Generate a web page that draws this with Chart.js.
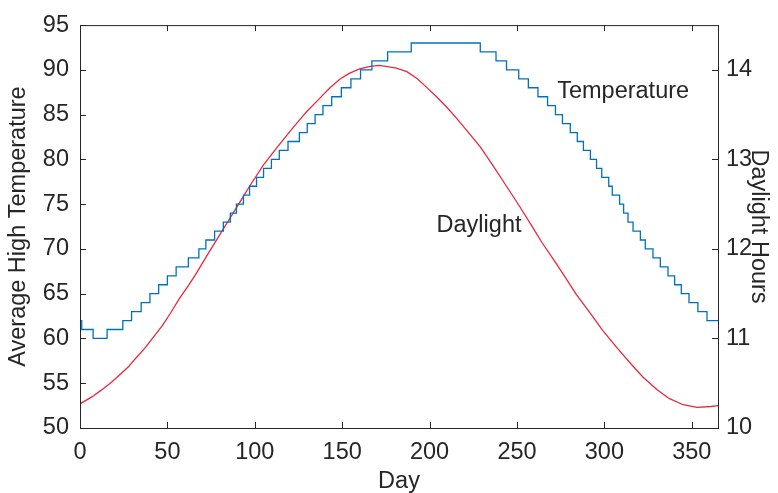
<!DOCTYPE html>
<html>
<head>
<meta charset="utf-8">
<title>Temperature and Daylight</title>
<script src="https://cdn.jsdelivr.net/npm/chart.js@4.4.1/dist/chart.umd.min.js"></script>
<style>
  html, body { margin: 0; padding: 0; background: #ffffff; }
  #wrap { width: 778px; height: 493px; }
</style>
</head>
<body>
<div id="wrap"><canvas id="climateChart" width="778" height="493"></canvas></div>
<script>
// Average high temperature: day where each level starts, and the level (step line)
const tempDays = [0, 1, 7.5, 15.5, 24.5, 29.5, 35, 40, 45, 50, 55, 62, 68, 72, 77, 82, 86, 89.5, 93.5, 97,
    101, 105, 109.5, 114, 119, 125.5, 130, 134.5, 139, 144, 149.5, 155, 160.5, 167, 176, 189.5, 229, 238, 244, 251,
    256.5, 262, 267.5, 272, 276, 280.5, 284.5, 288, 292, 295.5, 298.5, 302.5, 304.5, 308.7, 311, 313.5, 316.4, 320.6,
    323.4, 327.8, 332, 336.4, 340.2, 344, 348.4, 353.5, 358.7, 365];
const tempValues = [62, 61, 60, 61, 62, 63, 64, 65, 66, 67, 68, 69, 70, 71, 72, 73, 74, 75, 76, 77,
    78, 79, 80, 81, 82, 83, 84, 85, 86, 87, 88, 89, 90, 91, 92, 93, 92, 91, 90, 89,
    88, 87, 86, 85, 84, 83, 82, 81, 80, 79, 78, 77, 76, 75, 74, 73, 72, 71,
    70, 69, 68, 67, 66, 65, 64, 63, 62, 62];

// Daylight hours
const lightDays = [0, 7, 12, 18, 22, 28, 31, 37, 41, 47, 52, 57, 62, 66, 74, 80, 86, 92, 97, 105,
    113, 120, 126, 130, 135, 140, 143, 149, 154, 160, 166, 171, 175, 181, 187, 193, 198, 204, 210, 215,
    221, 229, 236, 244, 252, 259, 264, 272, 278, 284, 292, 299, 307, 315, 322, 330, 337, 345, 353, 361, 365];
const lightHours = [10.27, 10.35, 10.42, 10.51, 10.58, 10.69, 10.76, 10.89, 10.99, 11.14, 11.29, 11.45, 11.59, 11.71, 11.97, 12.16, 12.35, 12.54, 12.70, 12.94,
    13.14, 13.31, 13.45, 13.54, 13.64, 13.74, 13.80, 13.90, 13.96, 14.01, 14.04, 14.05, 14.04, 14.02, 13.98, 13.90, 13.81, 13.70, 13.58, 13.47,
    13.33, 13.14, 12.94, 12.70, 12.46, 12.24, 12.08, 11.85, 11.67, 11.49, 11.28, 11.09, 10.90, 10.72, 10.57, 10.43, 10.33, 10.26, 10.23, 10.24, 10.25];

// Tick labels
const dayTicks = [0, 50, 100, 150, 200, 250, 300, 350];
const tempTicks = [50, 55, 60, 65, 70, 75, 80, 85, 90, 95];
const hourTicks = [10, 11, 12, 13, 14];

const INK = '#262626';
const FONT = 'Liberation Sans, Arial, Helvetica, sans-serif';
const SIZE = 23.5;

// Box around the plot and MATLAB style inward tick marks
const boxPlugin = {
    id: 'boxTicks',
    afterDatasetsDraw(chart) {
        const { ctx, chartArea: a, scales } = chart;
        const len = 6;
        ctx.save();
        ctx.strokeStyle = INK;
        ctx.lineWidth = 1;
        ctx.beginPath();
        dayTicks.forEach(v => {
            const px = Math.round(scales.x.getPixelForValue(v)) + 0.5;
            ctx.moveTo(px, a.bottom); ctx.lineTo(px, a.bottom - len);
            ctx.moveTo(px, a.top); ctx.lineTo(px, a.top + len);
        });
        tempTicks.forEach(v => {
            const py = Math.round(scales.y.getPixelForValue(v)) + 0.5;
            ctx.moveTo(a.left, py); ctx.lineTo(a.left + len, py);
        });
        hourTicks.forEach(v => {
            const py = Math.round(scales.y1.getPixelForValue(v)) + 0.5;
            ctx.moveTo(a.right, py); ctx.lineTo(a.right - len, py);
        });
        ctx.stroke();
        ctx.strokeRect(a.left + 0.5, a.top + 0.5, a.right - a.left, a.bottom - a.top);

        // text labels next to the curves
        ctx.fillStyle = INK;
        ctx.font = SIZE + 'px ' + FONT;
        ctx.textBaseline = 'middle';
        ctx.textAlign = 'left';
        ctx.fillText('Temperature', scales.x.getPixelForValue(273), scales.y.getPixelForValue(87.6));
        ctx.fillText('Daylight', scales.x.getPixelForValue(204), scales.y.getPixelForValue(72.6));
        ctx.restore();
    }
};

function fixSize(w, h) {
    return function (scale) {
        if (w !== null) scale.width = w;
        if (h !== null) scale.height = h;
    };
}

const noGrid = { display: false, drawTicks: false, tickLength: 0 };

function renderChart() {
    const ctx = document.getElementById('climateChart').getContext('2d');

    new Chart(ctx, {
        type: 'line',
        data: {
            datasets: [{
                label: 'Temperature',
                data: tempDays.map((d, i) => ({ x: d, y: tempValues[i] })),
                yAxisID: 'y',
                borderColor: '#0072BD',
                borderWidth: 1.3,
                stepped: 'before',
                pointRadius: 0,
                fill: false
            }, {
                label: 'Daylight',
                data: lightDays.map((d, i) => ({ x: d, y: lightHours[i] })),
                yAxisID: 'y1',
                borderColor: '#E8283C',
                borderWidth: 1.3,
                tension: 0,
                pointRadius: 0,
                fill: false
            }]
        },
        options: {
            responsive: false,
            animation: false,
            devicePixelRatio: 1,
            layout: { padding: { top: 22, left: 0, right: 0, bottom: 0 } },
            plugins: {
                legend: { display: false },
                tooltip: { enabled: false }
            },
            scales: {
                x: {
                    type: 'linear',
                    min: 0,
                    max: 365,
                    afterBuildTicks: s => { s.ticks = dayTicks.map(v => ({ value: v })); },
                    afterFit: fixSize(null, 65),
                    grid: noGrid,
                    border: { display: false },
                    ticks: { color: INK, font: { family: FONT, size: SIZE }, padding: 10, maxRotation: 0 },
                    title: { display: true, text: 'Day', color: INK, font: { family: FONT, size: SIZE, lineHeight: 1 }, padding: 0 }
                },
                y: {
                    position: 'left',
                    min: 50,
                    max: 95,
                    afterBuildTicks: s => { s.ticks = tempTicks.map(v => ({ value: v })); },
                    afterFit: fixSize(80, null),
                    grid: noGrid,
                    border: { display: false },
                    ticks: { color: INK, font: { family: FONT, size: SIZE }, padding: 11 },
                    title: { display: true, text: 'Average High Temperature', color: INK, font: { family: FONT, size: SIZE, lineHeight: 1 }, padding: { top: 7, bottom: 0 } }
                },
                y1: {
                    position: 'right',
                    min: 10,
                    max: 14.5,
                    afterBuildTicks: s => { s.ticks = hourTicks.map(v => ({ value: v })); },
                    afterFit: fixSize(60, null),
                    grid: noGrid,
                    border: { display: false },
                    ticks: { color: INK, font: { family: FONT, size: SIZE }, padding: 8 },
                    title: { display: true, text: 'Daylight Hours', color: INK, font: { family: FONT, size: SIZE, lineHeight: 1 }, padding: { top: 8, bottom: 0 } }
                }
            }
        },
        plugins: [boxPlugin]
    });
}

renderChart();
</script>
</body>
</html>
